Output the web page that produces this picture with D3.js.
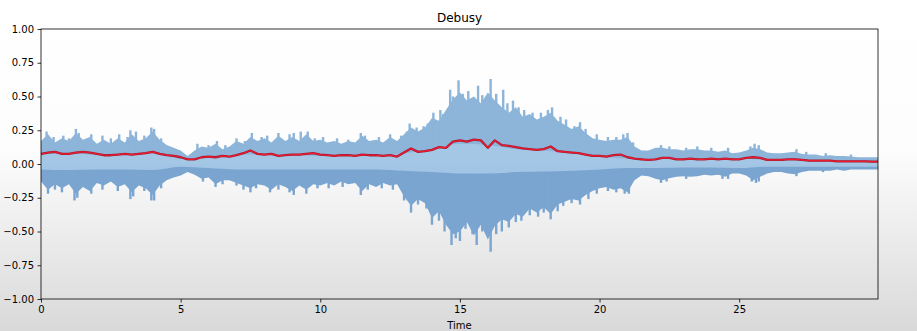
<!DOCTYPE html>
<html>
<head>
<meta charset="utf-8">
<script src="https://cdn.jsdelivr.net/npm/d3@7"></script>
<style>
html,body{margin:0;padding:0;background:#fff;}
svg{display:block;font-family:"DejaVu Sans",sans-serif;}
</style>
</head>
<body>
<div id="chart"></div>
<script>
// ---- data ----
const title = "Debusy";
const xLabel = "Time";
const xTicks = [0, 5, 10, 15, 20, 25];
const yTicks = [-1, -0.75, -0.5, -0.25, 0, 0.25, 0.5, 0.75, 1];
const duration = 29.97;
const envStep = 0.25; // seconds between envelope samples
// waveform envelope
const upperEnv = [
 0.17,0.22,0.16,0.19,0.17,0.23,0.18,0.20,0.15,0.18,0.15,0.19,0.16,0.22,0.17,0.19,0.24,0.18,0.14,0.12,
 0.10,0.06,0.10,0.13,0.12,0.15,0.11,0.13,0.17,0.15,0.20,0.17,0.19,0.16,0.21,0.17,0.20,0.17,0.22,0.17,
 0.18,0.16,0.17,0.15,0.17,0.16,0.21,0.17,0.18,0.16,0.20,0.17,0.22,0.27,0.24,0.27,0.34,0.32,0.40,0.48,
 0.53,0.47,0.50,0.45,0.53,0.47,0.42,0.38,0.42,0.35,0.37,0.33,0.35,0.38,0.32,0.29,0.26,0.28,0.23,0.19,
 0.18,0.17,0.18,0.18,0.20,0.13,0.10,0.10,0.12,0.12,0.11,0.11,0.10,0.11,0.11,0.10,0.10,0.09,0.10,0.08,
 0.085,0.10,0.12,0.11,0.085,0.08,0.08,0.085,0.09,0.075,0.07,0.07,0.06,0.065,0.06,0.06,0.055,0.05,0.05,0.05,0.05
];
const lowerEnv = [
 -0.13,-0.19,-0.15,-0.18,-0.15,-0.22,-0.17,-0.20,-0.14,-0.16,-0.13,-0.17,-0.15,-0.21,-0.16,-0.18,-0.23,-0.16,-0.12,-0.10,
 -0.085,-0.06,-0.08,-0.11,-0.10,-0.15,-0.12,-0.12,-0.14,-0.16,-0.18,-0.15,-0.16,-0.19,-0.15,-0.17,-0.20,-0.16,-0.19,-0.15,
 -0.16,-0.14,-0.16,-0.13,-0.15,-0.14,-0.20,-0.15,-0.17,-0.14,-0.16,-0.15,-0.24,-0.31,-0.26,-0.29,-0.40,-0.35,-0.45,-0.52,
 -0.50,-0.43,-0.53,-0.45,-0.56,-0.46,-0.41,-0.43,-0.37,-0.39,-0.33,-0.36,-0.32,-0.37,-0.30,-0.28,-0.26,-0.27,-0.23,-0.20,
 -0.18,-0.17,-0.19,-0.18,-0.21,-0.12,-0.085,-0.09,-0.11,-0.12,-0.105,-0.095,-0.09,-0.095,-0.09,-0.08,-0.085,-0.08,-0.095,-0.07,
 -0.07,-0.085,-0.12,-0.095,-0.07,-0.06,-0.06,-0.07,-0.075,-0.06,-0.05,-0.05,-0.05,-0.05,-0.04,-0.05,-0.04,-0.04,-0.04,-0.04,-0.04
];
// individual peaks sticking out of the envelope: [time, amplitude]
const upperPeaks = [
 [0.2,0.24],[0.45,0.20],[0.8,0.21],[1.0,0.19],[1.25,0.26],[1.35,0.23],[1.8,0.22],[2.2,0.21],[2.5,0.19],[2.8,0.22],[3.1,0.20],[3.2,0.25],[3.4,0.24],[3.7,0.21],[3.95,0.27],[4.05,0.26],[4.3,0.19],
 [5.6,0.15],[6.0,0.14],[6.3,0.17],[6.6,0.14],[7.0,0.19],[7.3,0.17],[7.55,0.23],[7.9,0.20],[8.1,0.21],[8.5,0.23],[8.9,0.22],[9.05,0.23],[9.3,0.24],[9.55,0.24],[9.8,0.19],
 [10.1,0.20],[10.6,0.19],[11.0,0.18],[11.45,0.23],[11.6,0.21],[12.1,0.20],[12.5,0.22],[12.9,0.21],[13.1,0.24],[13.2,0.30],[13.45,0.27],[13.7,0.28],[13.85,0.30],[14.05,0.38],[14.3,0.40],[14.4,0.37],
 [14.65,0.55],[14.75,0.50],[14.95,0.62],[15.1,0.52],[15.3,0.54],[15.45,0.49],[15.65,0.58],[15.8,0.51],[16.1,0.63],[16.3,0.52],[16.55,0.55],[16.7,0.45],[16.9,0.47],[17.1,0.42],[17.3,0.40],[17.6,0.38],
 [17.9,0.38],[18.15,0.40],[18.3,0.42],[18.6,0.35],[18.8,0.33],[19.1,0.28],[19.3,0.31],[19.5,0.26],[19.9,0.22],
 [20.3,0.20],[20.6,0.20],[20.85,0.22],[21.0,0.23],[21.2,0.16],[22.2,0.14],[22.5,0.13],[23.1,0.12],[23.5,0.13],[24.0,0.12],[24.6,0.12],[25.4,0.13],[25.55,0.15],[25.7,0.14],[27.05,0.11],[27.4,0.09],[28.1,0.08],[29.0,0.07]
];
const lowerPeaks = [
 [0.25,-0.22],[0.5,-0.19],[0.75,-0.21],[1.2,-0.27],[1.3,-0.25],[1.8,-0.22],[2.2,-0.19],[2.75,-0.20],[3.2,-0.26],[3.3,-0.24],[3.7,-0.20],[3.95,-0.27],[4.05,-0.27],[4.3,-0.18],
 [5.8,-0.13],[6.25,-0.17],[6.5,-0.15],[7.0,-0.16],[7.25,-0.19],[7.5,-0.21],[7.7,-0.18],[8.2,-0.21],[8.5,-0.19],[8.9,-0.21],[9.05,-0.23],[9.5,-0.22],[9.9,-0.18],
 [10.3,-0.18],[10.8,-0.17],[11.45,-0.23],[11.7,-0.19],[12.2,-0.18],[12.6,-0.19],[13.0,-0.27],[13.25,-0.36],[13.5,-0.30],[13.8,-0.33],[14.0,-0.45],[14.25,-0.42],[14.45,-0.50],
 [14.7,-0.60],[14.85,-0.55],[15.0,-0.57],[15.2,-0.48],[15.45,-0.52],[15.6,-0.60],[15.8,-0.50],[16.1,-0.65],[16.3,-0.52],[16.5,-0.50],[16.75,-0.47],[17.0,-0.43],[17.2,-0.42],[17.5,-0.38],
 [17.8,-0.39],[18.0,-0.36],[18.25,-0.41],[18.5,-0.35],[18.7,-0.31],[19.0,-0.29],[19.3,-0.30],[19.6,-0.26],[19.9,-0.22],
 [20.3,-0.20],[20.6,-0.21],[20.9,-0.22],[21.05,-0.22],[22.2,-0.14],[22.4,-0.13],[23.1,-0.11],[24.4,-0.11],[24.6,-0.11],[25.45,-0.13],[25.6,-0.14],[25.7,-0.13],[27.05,-0.09],[28.0,-0.06]
];
const rmsStep = 0.25;
const rmsValues = [
 0.075,0.085,0.09,0.075,0.075,0.085,0.09,0.085,0.075,0.065,0.065,0.07,0.075,0.07,0.075,0.08,0.09,0.075,0.065,0.06,
 0.05,0.035,0.035,0.05,0.055,0.05,0.06,0.055,0.065,0.08,0.10,0.075,0.07,0.075,0.06,0.065,0.07,0.07,0.075,0.08,
 0.07,0.065,0.06,0.065,0.065,0.06,0.07,0.065,0.065,0.06,0.065,0.055,0.085,0.115,0.09,0.095,0.105,0.125,0.12,0.165,
 0.175,0.165,0.18,0.175,0.12,0.175,0.14,0.135,0.125,0.115,0.11,0.105,0.11,0.13,0.095,0.09,0.085,0.08,0.07,0.06,
 0.06,0.055,0.065,0.07,0.05,0.04,0.035,0.03,0.035,0.045,0.045,0.035,0.035,0.04,0.035,0.035,0.04,0.035,0.04,0.035,
 0.035,0.045,0.05,0.045,0.03,0.03,0.03,0.035,0.035,0.03,0.025,0.025,0.025,0.025,0.02,0.02,0.02,0.02,0.02,0.018,0.017
];
const bandStep = 1;
const bandHigh = [0.07,0.08,0.07,0.07,0.08,0.04,0.05,0.07,0.07,0.07,0.06,0.06,0.06,0.08,0.11,0.15,0.14,0.11,0.10,0.08,0.06,0.04,0.04,0.035,0.035,0.04,0.03,0.03,0.025,0.02,0.02];
const bandLow = [-0.04,-0.045,-0.04,-0.04,-0.045,-0.02,-0.03,-0.04,-0.04,-0.04,-0.04,-0.04,-0.04,-0.05,-0.06,-0.07,-0.07,-0.06,-0.055,-0.05,-0.04,-0.03,-0.03,-0.025,-0.025,-0.03,-0.02,-0.02,-0.02,-0.02,-0.02];

// ---- layout ----
const W = 917, H = 331;
const m = {left: 41, top: 29, right: 39, bottom: 32};
const iw = W - m.left - m.right, ih = H - m.top - m.bottom;

const svg = d3.select("#chart").append("svg").attr("width", W).attr("height", H);
const defs = svg.append("defs");
const grad = defs.append("linearGradient").attr("id", "bg").attr("x1", 0).attr("y1", 0).attr("x2", 0).attr("y2", 1);
grad.append("stop").attr("offset", "0%").attr("stop-color", "#ffffff");
grad.append("stop").attr("offset", "45%").attr("stop-color", "#fdfdfd");
grad.append("stop").attr("offset", "100%").attr("stop-color", "#d9d9d9");
defs.append("clipPath").attr("id", "clip").append("rect").attr("width", iw).attr("height", ih);

svg.append("rect").attr("width", W).attr("height", H).attr("fill", "url(#bg)");

const x = d3.scaleLinear().domain([0, duration]).range([0, iw]);
const y = d3.scaleLinear().domain([-1, 1]).range([ih, 0]);

const g = svg.append("g").attr("transform", `translate(${m.left},${m.top})`);
const plot = g.append("g").attr("clip-path", "url(#clip)");

const envData = upperEnv.map((u, i) => ({t: i * envStep, u, l: lowerEnv[i]}));
const bandData = bandHigh.map((h, i) => ({t: i * bandStep, h, l: bandLow[i]}));
const rmsData = rmsValues.map((v, i) => ({t: i * rmsStep, v}));

const upCol = "#8db4d9", lowCol = "#7aa5d0";
// upper half of waveform
plot.append("path").datum(envData)
  .attr("fill", upCol)
  .attr("d", d3.area().x(d => x(d.t)).y0(y(0)).y1(d => y(d.u)));
plot.append("g").selectAll("line").data(upperPeaks).join("line")
  .attr("x1", d => x(d[0])).attr("x2", d => x(d[0]))
  .attr("y1", y(0)).attr("y2", d => y(d[1]))
  .attr("stroke", upCol).attr("stroke-width", 2.4);
// lower half of waveform
plot.append("path").datum(envData)
  .attr("fill", lowCol)
  .attr("d", d3.area().x(d => x(d.t)).y0(y(0)).y1(d => y(d.l)));
plot.append("g").selectAll("line").data(lowerPeaks).join("line")
  .attr("x1", d => x(d[0])).attr("x2", d => x(d[0]))
  .attr("y1", y(0)).attr("y2", d => y(d[1]))
  .attr("stroke", lowCol).attr("stroke-width", 2.4);
// light inner band
plot.append("path").datum(bandData)
  .attr("fill", "#a7c9e7").attr("opacity", 0.9)
  .attr("d", d3.area().curve(d3.curveMonotoneX).x(d => x(d.t)).y0(d => y(d.l)).y1(d => y(d.h)));

// RMS line
const rmsLine = d3.line().x(d => x(d.t)).y(d => y(d.v));
plot.append("path").datum(rmsData)
  .attr("fill", "none").attr("stroke", "#a01c30").attr("stroke-width", 2.3).attr("stroke-linejoin", "round")
  .attr("d", rmsLine);
plot.append("path").datum(rmsData)
  .attr("fill", "none").attr("stroke", "#ee1a30").attr("stroke-width", 1.2).attr("stroke-linejoin", "round")
  .attr("d", rmsLine);

// axes
const fmtY = v => d3.format(".2f")(v).replace("-", "\u2212");
const xAxis = g.append("g").attr("transform", `translate(0,${ih})`)
  .call(d3.axisBottom(x).tickValues(xTicks).tickSize(3.5).tickPadding(3.5).tickFormat(d3.format("d")));
const yAxis = g.append("g")
  .call(d3.axisLeft(y).tickValues(yTicks).tickSize(3.5).tickPadding(3.5).tickFormat(fmtY));
[xAxis, yAxis].forEach(a => {
  a.select(".domain").remove();
  a.selectAll("text").attr("font-size", 10).attr("fill", "#000").attr("font-family", "DejaVu Sans, sans-serif");
  a.selectAll("line").attr("stroke", "#000").attr("stroke-width", 0.8);
});
// spines
g.append("rect").attr("width", iw).attr("height", ih)
  .attr("fill", "none").attr("stroke", "#000").attr("stroke-width", 0.8);

// title and label
svg.append("text").attr("x", m.left + iw / 2).attr("y", 22)
  .attr("text-anchor", "middle").attr("font-size", 12).attr("fill", "#000").text(title);
svg.append("text").attr("x", m.left + iw / 2).attr("y", 329)
  .attr("text-anchor", "middle").attr("font-size", 10).attr("fill", "#000").text(xLabel);
</script>
</body>
</html>
